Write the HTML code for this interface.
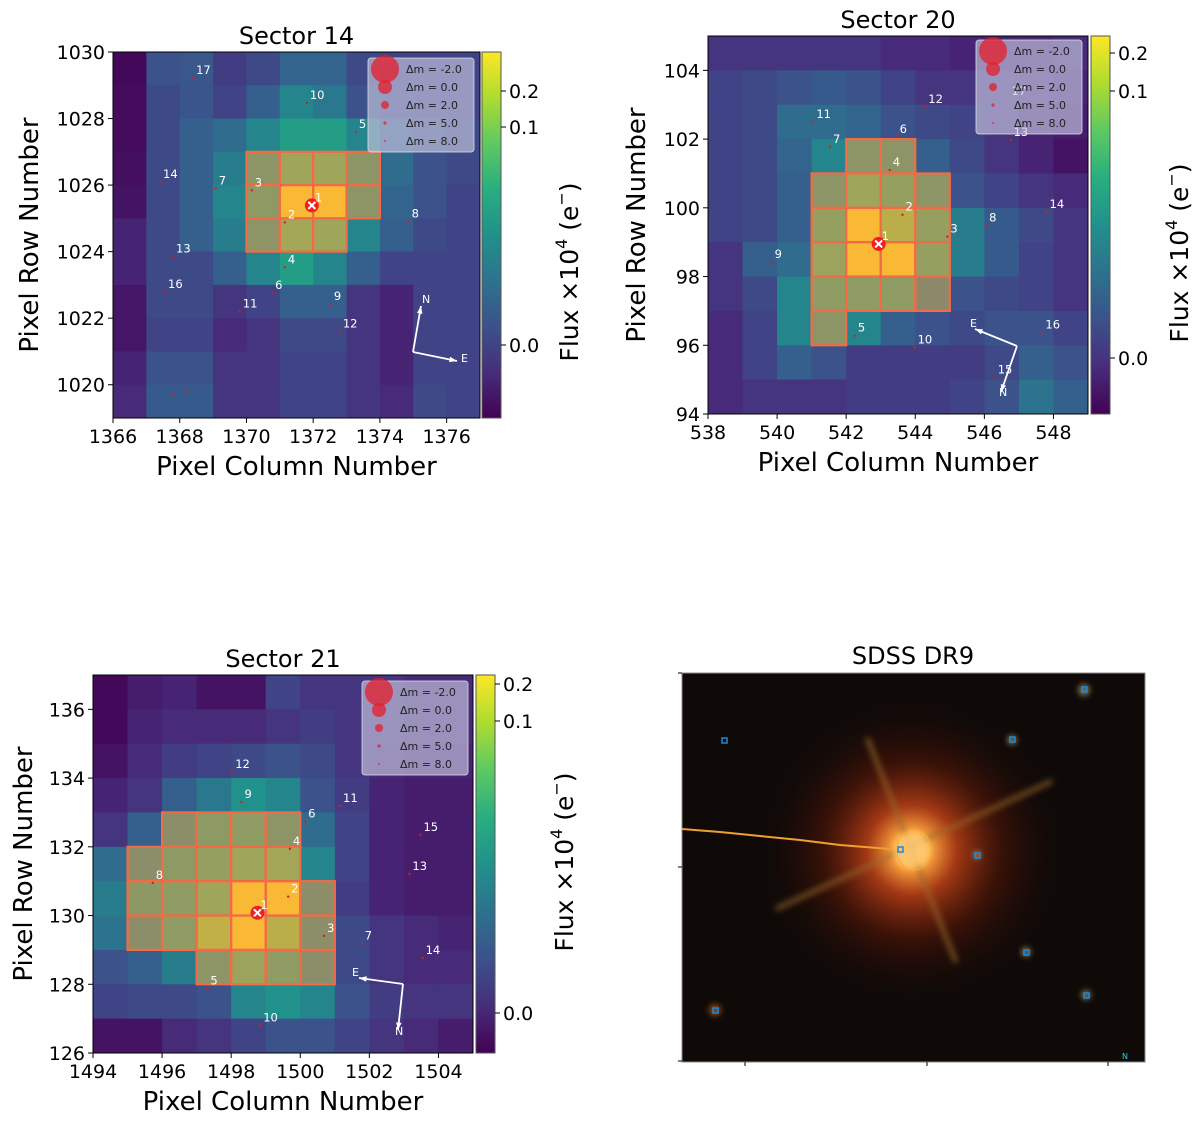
<!DOCTYPE html>
<html><head><meta charset="utf-8">
<style>
html,body{margin:0;padding:0;background:#fff;}
svg{display:block;font-family:"DejaVu Sans","Liberation Sans",sans-serif;}
</style></head>
<body>
<svg id="fig" width="1200" height="1124" viewBox="0 0 1200 1124" xmlns="http://www.w3.org/2000/svg">
<defs>
<linearGradient id="viridis" x1="0" y1="1" x2="0" y2="0">
<stop offset="0" stop-color="#440154"/><stop offset="0.125" stop-color="#472d7b"/><stop offset="0.25" stop-color="#3b528b"/><stop offset="0.375" stop-color="#2c728e"/><stop offset="0.5" stop-color="#21918c"/><stop offset="0.625" stop-color="#28ae80"/><stop offset="0.75" stop-color="#5ec962"/><stop offset="0.875" stop-color="#addc30"/><stop offset="1" stop-color="#fde725"/>
</linearGradient>
<radialGradient id="glow" cx="0.5" cy="0.5" r="0.5">
<stop offset="0" stop-color="#ffe6a0"/><stop offset="0.12" stop-color="#ffa840"/><stop offset="0.3" stop-color="#c84418" stop-opacity="0.8"/><stop offset="0.6" stop-color="#6a1a08" stop-opacity="0.45"/><stop offset="1" stop-color="#200804" stop-opacity="0"/>
</radialGradient>
<filter id="blur3"><feGaussianBlur stdDeviation="3"/></filter>
</defs>
<g id="p14"></g>
<g id="p20"></g>
<g id="p21"></g>
<g id="sdss">
  <text x="913" y="664" font-size="24" text-anchor="middle">SDSS DR9</text>
  <rect x="682" y="673" width="463" height="389" fill="#0f0a08" stroke="#888" stroke-width="1"/>
  <circle cx="912" cy="850" r="150" fill="url(#glow)"/>
  <g stroke-linecap="round" filter="url(#blur3)">
    <line x1="868" y1="740" x2="955" y2="960" stroke="#9a6a28" stroke-width="6" opacity="0.55"/>
    <line x1="778" y1="908" x2="1050" y2="782" stroke="#9a6a28" stroke-width="6" opacity="0.55"/>
  </g>
  <circle cx="912" cy="850" r="18" fill="#ffc870" opacity="0.85" filter="url(#blur3)"/>
  <ellipse cx="914" cy="850" rx="17" ry="20" fill="none" stroke="#f0b040" stroke-width="1"/>
  <polyline points="682,829 720,832 760,836 800,840 840,845 890,849" fill="none" stroke="#f0a030" stroke-width="2"/>
  <g fill="#c8b070" opacity="0.6" filter="url(#blur3)">
    <circle cx="1084" cy="690" r="6"/><circle cx="1012" cy="740" r="5"/><circle cx="977" cy="855" r="4"/><circle cx="1026" cy="952" r="5"/><circle cx="1086" cy="995" r="5"/><circle cx="715" cy="1010" r="6" fill="#e07020"/>
  </g>
  <g fill="none" stroke="#1a8ae0" stroke-width="1.5">
    <rect x="898" y="847" width="5" height="5"/><rect x="722" y="738" width="5" height="5"/><rect x="1010" y="737" width="5" height="5"/>
    <rect x="1082" y="687" width="5" height="5"/><rect x="975" y="853" width="5" height="5"/><rect x="1024" y="950" width="5" height="5"/>
    <rect x="1084" y="993" width="5" height="5"/><rect x="713" y="1008" width="5" height="5"/>
  </g>
  <text x="1122" y="1059" font-size="8" fill="#20d0e0">N</text>
  <g stroke="#000" stroke-width="1">
    <line x1="745" y1="1062" x2="745" y2="1066"/><line x1="927" y1="1062" x2="927" y2="1066"/><line x1="1108" y1="1062" x2="1108" y2="1066"/>
    <line x1="678" y1="673" x2="682" y2="673"/><line x1="678" y1="867" x2="682" y2="867"/><line x1="678" y1="1061" x2="682" y2="1061"/>
  </g>
</g>
<script>
// ===== Sector 14 data =====
const s14Cols=[1366,1367,1368,1369,1370,1371,1372,1373,1374,1375,1376];
const s14Rows=[1029,1028,1027,1026,1025,1024,1023,1022,1021,1020,1019];
const s14Flux=[
[0.02,0.25,0.27,0.18,0.22,0.32,0.32,0.22,0.2,0.2,0.2],
[0.03,0.22,0.26,0.2,0.3,0.45,0.4,0.25,0.22,0.2,0.2],
[0.03,0.22,0.3,0.35,0.45,0.55,0.55,0.45,0.3,0.25,0.22],
[0.04,0.22,0.3,0.42,0.55,0.7,0.7,0.55,0.35,0.25,0.22],
[0.05,0.22,0.3,0.45,0.6,1.0,1.0,0.55,0.32,0.25,0.2],
[0.1,0.22,0.3,0.42,0.55,0.72,0.7,0.45,0.3,0.22,0.2],
[0.1,0.22,0.22,0.3,0.45,0.55,0.45,0.3,0.2,0.2,0.2],
[0.06,0.22,0.22,0.15,0.2,0.3,0.3,0.15,0.1,0.2,0.2],
[0.06,0.2,0.2,0.12,0.15,0.22,0.22,0.15,0.1,0.2,0.2],
[0.1,0.25,0.25,0.15,0.15,0.2,0.2,0.15,0.1,0.2,0.2],
[0.12,0.28,0.28,0.15,0.15,0.2,0.2,0.15,0.12,0.22,0.2]];
const s14Aperture=[
"00000000000","00000000000","00000000000","00001111000","00001111000","00001110000","00000000000","00000000000","00000000000","00000000000","00000000000"];
const s14StarIds=["1","2","3","4","5","6","7","8","9","10","11","12","13","14","16","17","",""];
const s14StarCol=[1371.96,1371.15,1370.16,1371.15,1373.28,1370.77,1369.08,1374.86,1372.53,1371.81,1369.8,1372.8,1367.8,1367.41,1367.56,1368.4,1367.8,1368.2];
const s14StarRow=[1025.39,1024.88,1025.84,1023.53,1027.6,1022.75,1025.9,1024.91,1022.42,1028.47,1022.2,1021.6,1023.86,1026.1,1022.78,1029.22,1019.7,1019.8];
const s14XTicks=[1366,1368,1370,1372,1374,1376];
const s14YTicks=[1020,1022,1024,1026,1028,1030];

// ===== Sector 20 data =====
const s20Cols=[538,539,540,541,542,543,544,545,546,547,548];
const s20Rows=[104,103,102,101,100,99,98,97,96,95,94];
const s20Flux=[
[0.15,0.15,0.15,0.15,0.15,0.12,0.12,0.1,0.1,0.1,0.12],
[0.2,0.22,0.25,0.28,0.25,0.2,0.15,0.15,0.15,0.12,0.1],
[0.2,0.22,0.35,0.35,0.32,0.25,0.22,0.2,0.15,0.1,0.08],
[0.2,0.22,0.32,0.45,0.55,0.55,0.3,0.22,0.15,0.1,0.05],
[0.2,0.22,0.3,0.55,0.7,0.65,0.55,0.25,0.2,0.15,0.12],
[0.2,0.22,0.3,0.65,1.0,0.8,0.65,0.42,0.28,0.22,0.15],
[0.15,0.3,0.35,0.68,1.0,1.0,0.65,0.42,0.28,0.2,0.15],
[0.15,0.22,0.45,0.62,0.62,0.62,0.45,0.25,0.22,0.2,0.15],
[0.12,0.2,0.45,0.55,0.45,0.3,0.25,0.22,0.25,0.25,0.2],
[0.12,0.2,0.3,0.25,0.18,0.18,0.18,0.18,0.22,0.3,0.25],
[0.12,0.15,0.15,0.15,0.18,0.18,0.18,0.2,0.25,0.38,0.3]];
const s20Aperture=[
"00000000000","00000000000","00000000000","00001100000","00011110000","00011110000","00011110000","00011110000","00010000000","00000000000","00000000000"];
const s20StarIds=["1","2","3","4","5","6","7","8","9","10","11","12","13","14","15","16","17"];
const s20StarCol=[542.94,543.63,544.93,543.26,542.25,543.46,541.53,546.05,539.84,543.98,541.05,544.29,546.76,547.8,546.3,547.68,546.7];
const s20StarRow=[98.95,99.8,99.16,101.1,96.28,102.06,101.77,99.48,98.43,95.93,102.5,102.94,101.98,99.88,95.06,96.37,103.17];
const s20XTicks=[538,540,542,544,546,548];
const s20YTicks=[94,96,98,100,102,104];

// ===== Sector 21 data =====
const s21Cols=[1494,1495,1496,1497,1498,1499,1500,1501,1502,1503,1504];
const s21Rows=[136,135,134,133,132,131,130,129,128,127,126];
const s21Flux=[
[0.02,0.08,0.1,0.05,0.05,0.2,0.15,0.15,0.15,0.12,0.12],
[0.02,0.1,0.12,0.12,0.12,0.15,0.18,0.15,0.15,0.12,0.12],
[0.05,0.12,0.18,0.2,0.22,0.25,0.22,0.15,0.12,0.1,0.1],
[0.1,0.15,0.3,0.4,0.5,0.45,0.25,0.18,0.1,0.08,0.08],
[0.15,0.3,0.5,0.6,0.62,0.55,0.35,0.2,0.1,0.08,0.08],
[0.35,0.5,0.6,0.65,0.7,0.72,0.45,0.2,0.1,0.08,0.08],
[0.42,0.58,0.62,0.7,1.0,1.0,0.5,0.18,0.1,0.08,0.08],
[0.38,0.5,0.62,0.82,1.0,0.8,0.5,0.22,0.15,0.12,0.1],
[0.25,0.3,0.42,0.55,0.68,0.62,0.5,0.22,0.15,0.12,0.12],
[0.2,0.22,0.22,0.25,0.45,0.5,0.45,0.25,0.18,0.15,0.15],
[0.05,0.05,0.12,0.15,0.2,0.25,0.25,0.2,0.15,0.12,0.08]];
const s21Aperture=[
"00000000000","00000000000","00000000000","00000000000","00111100000","01111100000","01111110000","01111110000","00011110000","00000000000","00000000000"];
const s21StarIds=["1","2","3","4","5","6","7","8","9","10","11","12","13","14","15"];
const s21StarCol=[1498.76,1499.65,1500.69,1499.7,1497.31,1500.14,1501.78,1495.73,1498.3,1498.84,1501.15,1498.03,1503.16,1503.54,1503.48];
const s21StarRow=[130.08,130.55,129.41,131.94,127.87,132.73,129.18,130.95,133.3,126.8,133.19,134.18,131.21,128.77,132.35];
const s21XTicks=[1494,1496,1498,1500,1502,1504];
const s21YTicks=[126,128,130,132,134,136];

const legendMags=["-2.0","0.0","2.0","5.0","8.0"];
const legendRadii=[14,7,4,1.6,1];

const NS="http://www.w3.org/2000/svg";
const VIR=[[68,1,84],[71,45,123],[59,82,139],[44,114,142],[33,145,140],[40,174,128],[94,201,98],[173,220,48],[253,231,37]];
function vir(v){v=Math.max(0,Math.min(1,v))*8;const i=Math.min(7,Math.floor(v)),f=v-i;const a=VIR[i],b=VIR[i+1];
return `rgb(${a.map((c,k)=>Math.round(c+(b[k]-c)*f)).join(',')})`;}
function mk(parent,tag,attrs,text){const e=document.createElementNS(NS,tag);for(const k in attrs)e.setAttribute(k,attrs[k]);if(text!==undefined)e.textContent=text;parent.appendChild(e);return e;}

function panel(g,cfg){
  const {x0,y0,w,h,c0,c1,r0,r1}=cfg;
  const X=c=>x0+(c-c0)/(c1-c0)*w;
  const Y=r=>y0+(r1-r)/(r1-r0)*h;
  const cells=mk(g,'g',{});
  
  
  cfg.flux.forEach((row,i)=>row.forEach((v,j)=>{
    const r=mk(cells,'rect',{x:X(cfg.cols[j]),y:Y(cfg.rows[i]+1),width:X(cfg.cols[j]+1)-X(cfg.cols[j])+0.5,height:Y(cfg.rows[i])-Y(cfg.rows[i]+1)+0.5,fill:vir(v)});
    
    
  }));
  const ap=mk(g,'g',{});
  
  
  cfg.ap.forEach((row,i)=>row.split('').forEach((ch,j)=>{
    if(ch!=='1')return;
    const r=mk(ap,'rect',{x:X(cfg.cols[j]),y:Y(cfg.rows[i]+1),width:X(cfg.cols[j]+1)-X(cfg.cols[j]),height:Y(cfg.rows[i])-Y(cfg.rows[i]+1),fill:'rgba(245,140,70,0.5)',stroke:'#f26a46','stroke-width':2.2});
    
    
  }));
  const st=mk(g,'g',{});
  
  
  cfg.sc.forEach((c,i)=>{
    const px=X(c),py=Y(cfg.sr[i]);
    if(i===0){
      mk(st,'circle',{cx:px,cy:py,r:7,fill:'#f02020'});
      mk(st,'path',{d:`M${px-3.5},${py-3.5}L${px+3.5},${py+3.5}M${px+3.5},${py-3.5}L${px-3.5},${py+3.5}`,stroke:'#fff','stroke-width':2});
    } else mk(st,'circle',{cx:px,cy:py,r:1.2,fill:'#d02020'});
    if(cfg.ids[i]){const t=mk(st,'text',{x:px+3,y:py-4,'font-size':11.5,fill:'#fff'},cfg.ids[i]);
      
      }
  });
  const cp=mk(g,'g',{stroke:'#fff','stroke-width':1.8,fill:'#fff'});
  
  
  const a=cfg.comp;
  function arrow(x1,y1,x2,y2){mk(cp,'line',{x1,y1,x2,y2});const ang=Math.atan2(y2-y1,x2-x1),L=8;
    mk(cp,'path',{d:`M${x2},${y2}L${x2-L*Math.cos(ang-0.35)},${y2-L*Math.sin(ang-0.35)}L${x2-L*Math.cos(ang+0.35)},${y2-L*Math.sin(ang+0.35)}Z`,stroke:'none'});}
  arrow(a[0],a[1],a[2],a[3]);arrow(a[0],a[1],a[4],a[5]);
  mk(cp,'text',{x:a[6],y:a[7],'font-size':11,stroke:'none'},'N');
  mk(cp,'text',{x:a[8],y:a[9],'font-size':11,stroke:'none'},'E');
  mk(g,'rect',{x:x0,y:y0,width:w,height:h,fill:'none',stroke:'#000','stroke-width':1});
  const lg=mk(g,'g',{});
  
  
  const L=cfg.leg;
  mk(lg,'rect',{x:L[0],y:L[1],width:106,height:94,rx:3,fill:'rgba(200,200,225,0.65)',stroke:'rgba(220,220,230,0.8)'});
  legendMags.forEach((m,i)=>{
    const cy=L[1]+11+i*18;
    mk(lg,'circle',{cx:L[0]+17,cy,r:legendRadii[i],fill:'rgba(230,30,40,0.75)'});
    const t=mk(lg,'text',{x:L[0]+38,y:cy+4,'font-size':11,fill:'#222'},'Δm =  '+m);
    
    
  });
  cfg.xt.forEach(v=>{const px=X(v);mk(g,'line',{x1:px,y1:y0+h,x2:px,y2:y0+h+5,stroke:'#000'});
    const t=mk(g,'text',{x:px,y:y0+h+25,'font-size':19,'text-anchor':'middle'},String(v));
    
    });
  cfg.yt.forEach(v=>{const py=Y(v);mk(g,'line',{x1:x0-5,y1:py,x2:x0,y2:py,stroke:'#000'});
    const t=mk(g,'text',{x:x0-8,y:py+7,'font-size':19,'text-anchor':'end'},String(v));
    
    });
  const tt=mk(g,'text',{x:x0+w/2,y:y0-8,'font-size':24,'text-anchor':'middle'},cfg.title);
  
  
  const xl=mk(g,'text',{x:x0+w/2,y:y0+h+57,'font-size':26,'text-anchor':'middle'},'Pixel Column Number');
  
  
  const yl=mk(g,'text',{x:0,y:0,'font-size':26,'text-anchor':'middle',transform:`translate(${cfg.ylx},${y0+h/2}) rotate(-90)`},'Pixel Row Number');
  
  
  const cb=mk(g,'g',{});
  
  
  mk(cb,'rect',{x:cfg.cbx,y:y0,width:19,height:h,fill:'url(#viridis)',stroke:'#555','stroke-width':1});
  [['0.2',cfg.cbt[0]],['0.1',cfg.cbt[1]],['0.0',cfg.cbt[2]]].forEach(([s,py])=>{
    mk(cb,'line',{x1:cfg.cbx+19,y1:py,x2:cfg.cbx+24,y2:py,stroke:'#000'});
    mk(cb,'text',{x:cfg.cbx+27,y:py+7,'font-size':19},s);});
  const fl=mk(g,'text',{x:0,y:0,'font-size':25,'text-anchor':'middle',transform:`translate(${cfg.flx},${cfg.fly}) rotate(-90)`});
  
  
  mk(fl,'tspan',{},'Flux ×10');
  mk(fl,'tspan',{'font-size':16,dy:-11},'4');
  mk(fl,'tspan',{dy:11},'  (e');
  mk(fl,'tspan',{'font-size':16,dy:-11},'−');
  mk(fl,'tspan',{dy:11},')');
}
panel(document.getElementById('p14'),{x0:113,y0:52,w:367,h:366,c0:1366,c1:1377,r0:1019,r1:1030,title:'Sector 14',
  flux:s14Flux,ap:s14Aperture,cols:s14Cols,rows:s14Rows,sc:s14StarCol,sr:s14StarRow,ids:s14StarIds,xt:s14XTicks,yt:s14YTicks,
  comp:[413,352,421,306,457,361,422,303,461,362],leg:[368,58],ylx:38,cbx:482,cbt:[91,127,345],flx:578,fly:272});
panel(document.getElementById('p20'),{x0:708,y0:36,w:380,h:378,c0:538,c1:549,r0:94,r1:105,title:'Sector 20',
  flux:s20Flux,ap:s20Aperture,cols:s20Cols,rows:s20Rows,sc:s20StarCol,sr:s20StarRow,ids:s20StarIds,xt:s20XTicks,yt:s20YTicks,
  comp:[1017,346,1001,392,975,329,999,396,970,327],leg:[976,40],ylx:645,cbx:1091,cbt:[53,91,358],flx:1188,fly:253});
panel(document.getElementById('p21'),{x0:93,y0:675,w:380,h:378,c0:1494,c1:1505,r0:126,r1:137,title:'Sector 21',
  flux:s21Flux,ap:s21Aperture,cols:s21Cols,rows:s21Rows,sc:s21StarCol,sr:s21StarRow,ids:s21StarIds,xt:s21XTicks,yt:s21YTicks,
  comp:[403,984,398,1030,359,978,395,1035,352,976],leg:[362,681],ylx:32,cbx:476,cbt:[684,721,1013],flx:573,fly:862});
</script>
</svg>
</body></html>
